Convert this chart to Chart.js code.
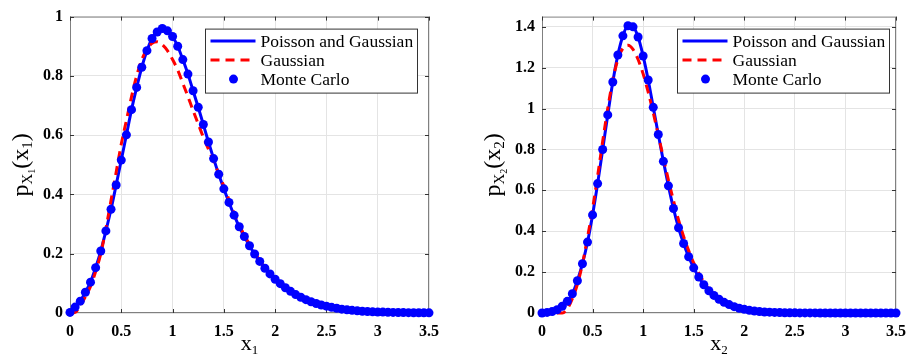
<!DOCTYPE html>
<html>
<head>
<meta charset="utf-8">
<script src="https://cdn.jsdelivr.net/npm/chart.js@4.4.1/dist/chart.umd.min.js"></script>
<style>
  body { margin: 0; background: #fff; }
  #wrap { position: relative; width: 915px; height: 354px; }
  canvas { position: absolute; top: 0; }
</style>
</head>
<body>
<div id="wrap">
  <canvas id="chartLeft" width="455" height="354" style="left:0"></canvas>
  <canvas id="chartRight" width="460" height="354" style="left:455px"></canvas>
</div>
<script>
// x grid shared by both plots
var xs = [0, 0.05, 0.1, 0.15, 0.2, 0.25, 0.3, 0.35, 0.4, 0.45,
  0.5, 0.55, 0.6, 0.65, 0.7, 0.75, 0.8, 0.85, 0.9, 0.95,
  1.0, 1.05, 1.1, 1.15, 1.2, 1.25, 1.3, 1.35, 1.4, 1.45,
  1.5, 1.55, 1.6, 1.65, 1.7, 1.75, 1.8, 1.85, 1.9, 1.95,
  2.0, 2.05, 2.1, 2.15, 2.2, 2.25, 2.3, 2.35, 2.4, 2.45,
  2.5, 2.55, 2.6, 2.65, 2.7, 2.75, 2.8, 2.85, 2.9, 2.95,
  3.0, 3.05, 3.1, 3.15, 3.2, 3.25, 3.3, 3.35, 3.4, 3.45, 3.5]

var xTicks = [0, 0.5, 1, 1.5, 2, 2.5, 3, 3.5]
var yTicks1 = [0, 0.2, 0.4, 0.6, 0.8, 1]
var yTicks2 = [0, 0.2, 0.4, 0.6, 0.8, 1, 1.2, 1.4]

var legendLabels = ['Poisson and Gaussian', 'Gaussian', 'Monte Carlo']

// x1
var poissonGauss1 = [0.002, 0.02, 0.04, 0.07, 0.104, 0.153, 0.209, 0.277, 0.35, 0.432,
  0.516, 0.601, 0.686, 0.761, 0.829, 0.885, 0.926, 0.95, 0.962, 0.954,
  0.933, 0.9, 0.855, 0.806, 0.75, 0.694, 0.636, 0.577, 0.521, 0.468,
  0.419, 0.373, 0.33, 0.291, 0.258, 0.227, 0.199, 0.174, 0.151, 0.132,
  0.114, 0.099, 0.085, 0.073, 0.062, 0.053, 0.045, 0.038, 0.032, 0.027,
  0.023, 0.019, 0.016, 0.013, 0.011, 0.009, 0.0075, 0.006, 0.005, 0.004,
  0.0035, 0.003, 0.0025, 0.002, 0.0017, 0.0014, 0.0012, 0.001, 0.0008, 0.0007, 0.0006]
var gauss1 = [0, 0.002, 0.025, 0.055, 0.09, 0.14, 0.2, 0.285, 0.38, 0.475,
  0.57, 0.65, 0.73, 0.8, 0.855, 0.89, 0.91, 0.915, 0.905, 0.885,
  0.855, 0.82, 0.775, 0.73, 0.683, 0.638, 0.593, 0.553, 0.512, 0.47,
  0.428, 0.382, 0.336, 0.297, 0.262, 0.232, 0.204, 0.177, 0.153, 0.132,
  0.113, 0.097, 0.083, 0.07, 0.059, 0.05, 0.042, 0.035, 0.029, 0.024,
  0.02, 0.016, 0.013, 0.011, 0.009, 0.007, 0.006, 0.005, 0.004, 0.003,
  0.0025, 0.002, 0.0016, 0.0013, 0.001, 0.0008, 0.0006, 0.0005, 0.0004, 0.0003, 0.0002]
var monteCarlo1 = [0.002, 0.02, 0.04, 0.07, 0.104, 0.153, 0.209, 0.277, 0.35, 0.432,
  0.516, 0.601, 0.686, 0.761, 0.829, 0.885, 0.926, 0.948, 0.96, 0.952,
  0.933, 0.9, 0.855, 0.806, 0.75, 0.694, 0.636, 0.577, 0.521, 0.468,
  0.419, 0.373, 0.33, 0.291, 0.258, 0.227, 0.199, 0.174, 0.151, 0.132,
  0.114, 0.099, 0.085, 0.073, 0.062, 0.053, 0.045, 0.038, 0.032, 0.027,
  0.023, 0.019, 0.016, 0.013, 0.011, 0.009, 0.0075, 0.006, 0.005, 0.004,
  0.0035, 0.003, 0.0025, 0.002, 0.0017, 0.0014, 0.0012, 0.001, 0.0008, 0.0007, 0.0006]

// x2
var poissonGauss2 = [0, 0.003, 0.007, 0.016, 0.033, 0.057, 0.094, 0.158, 0.241, 0.347,
  0.48, 0.633, 0.8, 0.969, 1.13, 1.262, 1.356, 1.405, 1.4, 1.35,
  1.257, 1.14, 1.006, 0.873, 0.742, 0.622, 0.511, 0.417, 0.34, 0.275,
  0.221, 0.176, 0.138, 0.109, 0.086, 0.067, 0.052, 0.041, 0.031, 0.023,
  0.018, 0.013, 0.01, 0.007, 0.005, 0.004, 0.003, 0.002, 0.0015, 0.001,
  0.0008, 0.0006, 0.0005, 0.0004, 0.0003, 0.0002, 0.0002, 0.0001, 0.0001, 0.0001,
  0, 0, 0, 0, 0, 0, 0, 0, 0, 0, 0]
var gauss2 = [0, 0, 0, 0, 0, 0.02, 0.07, 0.14, 0.24, 0.37,
  0.51, 0.67, 0.84, 1.0, 1.14, 1.24, 1.295, 1.31, 1.29, 1.24,
  1.17, 1.08, 0.98, 0.87, 0.76, 0.65, 0.55, 0.455, 0.375, 0.305,
  0.245, 0.195, 0.152, 0.117, 0.089, 0.067, 0.05, 0.037, 0.027, 0.019,
  0.013, 0.009, 0.006, 0.004, 0.003, 0.002, 0.001, 0.0007, 0.0004, 0.0002,
  0, 0, 0, 0, 0, 0, 0, 0, 0, 0,
  0, 0, 0, 0, 0, 0, 0, 0, 0, 0, 0]
var monteCarlo2 = [0, 0.003, 0.007, 0.016, 0.033, 0.057, 0.094, 0.158, 0.241, 0.347,
  0.48, 0.633, 0.8, 0.969, 1.13, 1.262, 1.356, 1.405, 1.4, 1.35,
  1.257, 1.14, 1.006, 0.873, 0.742, 0.622, 0.511, 0.417, 0.34, 0.275,
  0.221, 0.176, 0.138, 0.109, 0.086, 0.067, 0.052, 0.041, 0.031, 0.023,
  0.018, 0.013, 0.01, 0.007, 0.005, 0.004, 0.003, 0.002, 0.0015, 0.001,
  0.0008, 0.0006, 0.0005, 0.0004, 0.0003, 0.0002, 0.0002, 0.0001, 0.0001, 0.0001,
  0, 0, 0, 0, 0, 0, 0, 0, 0, 0, 0]

var FONT = "'Liberation Serif', 'Times New Roman', serif"

function pontos(ys) {
  return xs.map(function (x, i) { return { x: x, y: ys[i] } })
}

function rotuloTick(v) {
  return String(Math.round(v * 100) / 100)
}

// draws text pieces with sizes and baseline shifts (for subscripts)
function textoRico(ctx, partes) {
  var total = 0
  partes.forEach(function (p) {
    ctx.font = p.f + 'px ' + FONT
    p.w = ctx.measureText(p.t).width
    total += p.w
  })
  var x = -total / 2
  ctx.textBaseline = 'alphabetic'
  ctx.textAlign = 'left'
  ctx.fillStyle = '#000'
  partes.forEach(function (p) {
    ctx.font = p.f + 'px ' + FONT
    ctx.fillText(p.t, x, p.dy || 0)
    x += p.w
  })
}

var moldura = {
  id: 'moldura',
  beforeDatasetsDraw: function (chart) {
    var ctx = chart.ctx, a = chart.chartArea
    var sx = chart.scales.x, sy = chart.scales.y
    ctx.save()
    ctx.strokeStyle = '#808080'
    ctx.lineWidth = 1
    ctx.strokeRect(a.left + 0.5, a.top + 0.5, a.right - a.left - 1, a.bottom - a.top - 1)
    ctx.strokeStyle = '#333'
    ctx.beginPath()
    sx.ticks.forEach(function (t) {
      var px = Math.round(sx.getPixelForValue(t.value)) + 0.5
      ctx.moveTo(px, a.bottom); ctx.lineTo(px, a.bottom - 4)
      ctx.moveTo(px, a.top); ctx.lineTo(px, a.top + 4)
    })
    sy.ticks.forEach(function (t) {
      var py = Math.round(sy.getPixelForValue(t.value)) + 0.5
      ctx.moveTo(a.left, py); ctx.lineTo(a.left + 4, py)
      ctx.moveTo(a.right, py); ctx.lineTo(a.right - 4, py)
    })
    ctx.stroke()
    ctx.restore()
  },
  afterDraw: function (chart) {
    var ctx = chart.ctx, a = chart.chartArea
    var op = chart.options.plugins.moldura
    ctx.save()

    // legend box
    var bx = a.left + 135.5, by = a.top + 12.5, bw = 212, bh = 64
    ctx.fillStyle = '#fff'
    ctx.fillRect(bx, by, bw, bh)
    ctx.strokeStyle = '#333'
    ctx.lineWidth = 1
    ctx.strokeRect(bx, by, bw, bh)
    var linhas = [by + 12, by + 31, by + 50]
    ctx.lineWidth = 3
    ctx.strokeStyle = '#0000ff'
    ctx.beginPath(); ctx.moveTo(bx + 5, linhas[0]); ctx.lineTo(bx + 50, linhas[0]); ctx.stroke()
    ctx.strokeStyle = '#ff0000'
    ctx.setLineDash([9, 6])
    ctx.beginPath(); ctx.moveTo(bx + 5, linhas[1]); ctx.lineTo(bx + 50, linhas[1]); ctx.stroke()
    ctx.setLineDash([])
    ctx.fillStyle = '#0000ff'
    ctx.beginPath(); ctx.arc(bx + 28, linhas[2], 4.5, 0, Math.PI * 2); ctx.fill()
    ctx.fillStyle = '#000'
    ctx.font = '17.5px ' + FONT
    ctx.textBaseline = 'middle'
    ctx.textAlign = 'left'
    legendLabels.forEach(function (l, i) { ctx.fillText(l, bx + 55, linhas[i] + 1) })

    // x label
    ctx.save()
    ctx.translate((a.left + a.right) / 2, 350)
    textoRico(ctx, [{ t: 'x', f: 22 }, { t: op.sub, f: 13, dy: 4 }])
    ctx.restore()

    // y label
    ctx.save()
    ctx.translate(a.left - 42, (a.top + a.bottom) / 2)
    ctx.rotate(-Math.PI / 2)
    textoRico(ctx, [
      { t: 'p', f: 24 }, { t: 'X', f: 15, dy: 4 }, { t: op.sub, f: 10, dy: 7 },
      { t: '(', f: 24 }, { t: 'x', f: 24 }, { t: op.sub, f: 15, dy: 4 }, { t: ')', f: 24 }
    ])
    ctx.restore()

    ctx.restore()
  }
}

function criarGrafico(id, linha, gauss, mc, yTicks, yMax, larguraY, padDireita, sub) {
  return new Chart(document.getElementById(id), {
    type: 'line',
    data: {
      datasets: [{
        label: legendLabels[0],
        data: pontos(linha),
        borderColor: '#0000ff',
        borderWidth: 3,
        pointRadius: 0,
        cubicInterpolationMode: 'monotone',
        clip: false,
        order: 2
      }, {
        label: legendLabels[1],
        data: pontos(gauss),
        borderColor: '#ff0000',
        borderWidth: 3,
        borderDash: [9, 6],
        pointRadius: 0,
        cubicInterpolationMode: 'monotone',
        clip: false,
        order: 1
      }, {
        label: legendLabels[2],
        data: pontos(mc),
        showLine: false,
        pointRadius: 4.5,
        pointBackgroundColor: '#0000ff',
        pointBorderWidth: 0,
        clip: false,
        order: 0
      }]
    },
    options: {
      responsive: false,
      animation: false,
      layout: { padding: { left: 0, right: padDireita, top: 16, bottom: 0 } },
      scales: {
        x: {
          type: 'linear',
          min: 0,
          max: 3.5,
          afterBuildTicks: function (s) { s.ticks = xTicks.map(function (v) { return { value: v } }) },
          afterFit: function (s) { s.height = 41 },
          grid: { color: '#e4e4e4', drawTicks: false },
          border: { display: false },
          ticks: { padding: 9, color: '#000', font: { family: FONT, size: 16, weight: 'bold' }, maxRotation: 0, callback: rotuloTick }
        },
        y: {
          min: 0,
          max: yMax,
          afterBuildTicks: function (s) { s.ticks = yTicks.map(function (v) { return { value: v } }) },
          afterFit: function (s) { s.width = larguraY },
          grid: { color: '#e4e4e4', drawTicks: false },
          border: { display: false },
          ticks: { padding: 7, color: '#000', font: { family: FONT, size: 16, weight: 'bold' }, callback: rotuloTick }
        }
      },
      plugins: {
        legend: { display: false },
        tooltip: { enabled: false },
        moldura: { sub: sub }
      }
    },
    plugins: [moldura]
  })
}

criarGrafico('chartLeft', poissonGauss1, gauss1, monteCarlo1, yTicks1, 1, 70, 26, '1')
criarGrafico('chartRight', poissonGauss2, gauss2, monteCarlo2, yTicks2, 1.45, 87, 13, '2')
</script>
</body>
</html>
